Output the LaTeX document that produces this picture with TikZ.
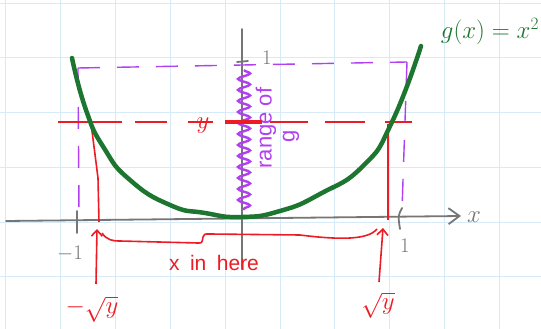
\documentclass[tikz,border=0pt]{standalone}
\usepackage{fontspec}
\setmainfont{Liberation Sans}
\usetikzlibrary{arrows.meta,decorations.pathmorphing}
\definecolor{gridc}{RGB}{214,234,248}
\definecolor{axc}{RGB}{118,118,118}
\definecolor{grn}{RGB}{28,118,48}
\definecolor{rd}{RGB}{236,28,36}
\definecolor{pur}{RGB}{178,64,240}
\begin{document}
\begin{tikzpicture}[x=1pt,y=-1pt,
  gridline/.style={gridc,line width=1pt},
  axis/.style={axc,line width=1.8pt,line cap=round},
  curve/.style={grn,line width=4.5pt,line cap=round,line join=round},
  pdash/.style={pur,line width=1.4pt,dash pattern=on 22pt off 17pt},
  redline/.style={rd,line width=1.6pt},
  redarrow/.style={rd,line width=1.6pt,-{Straight Barb[length=6pt,width=11pt,line width=1.6pt]}},
  lbl/.style={inner sep=0pt}]
\useasboundingbox (0,0) rectangle (541,329);
\fill[white] (0,0) rectangle (541,329);
% grid
\foreach \gx in {5,60,115,170,225,280,334.5,389.5,444,499}
  \draw[gridline] (\gx,0) -- (\gx,329);
\foreach \gy in {3.3,58,112.7,167.4,222,276.8}
  \draw[gridline] (0,\gy) -- (541,\gy);
% axes
\coordinate (xs) at (6,221);
\coordinate (xe) at (461,216);
\coordinate (ys) at (242,29);
\coordinate (ye) at (242,269);
\draw[axis,-{Straight Barb[length=11pt,width=16pt,line width=1.8pt]}] (xs) -- (xe);
\draw[axis] (ys) -- (ye);
\draw[axis] (77,211) -- (77,233);
\draw[axis] (402,208) .. controls (398,216) .. (400,229);
\draw[axis] (237,62) -- (248,61);
\node[lbl,axc] (xl) at (474,217) {\fontsize{24}{24}\selectfont $x$};
\node[lbl,axc] (m1) at (70,254) {\fontsize{21}{21}\selectfont $-1$};
\node[lbl,axc] (p1) at (405,246) {\fontsize{21}{21}\selectfont $1$};
\node[lbl,axc] (t1) at (267,58) {\fontsize{20}{20}\selectfont $1$};
% purple dashed box
\coordinate (pa) at (79,215);
\coordinate (pb) at (78,68);
\coordinate (pc) at (407,62);
\coordinate (pd) at (402,210);
\draw[pdash] (pb) -- (pc);
\draw[pdash] (pb) -- (pa);
\draw[pdash] (pc) -- (pd);
% wiggle
\coordinate (wa) at (244,70);
\coordinate (wb) at (244,210);
\draw[pur,line width=2.4pt,decorate,decoration={snake,amplitude=6pt,segment length=11pt}] (wa) -- (wb);
\node[lbl,pur,rotate=90] (rng) at (266,128) {\fontsize{22}{22}\selectfont range of};
\node[lbl,pur,rotate=90] (gg) at (291,136) {\fontsize{22}{22}\selectfont g};
% red dashed y-line
\coordinate (ra) at (58,122);
\coordinate (rb) at (412,122);
\draw[redline,dash pattern=on 64pt off 13pt on 32pt off 21pt on 25pt off 12pt on 37pt off 8pt on 38pt off 17pt on 40pt off 20pt on 27pt] (ra) -- (rb);
\draw[rd,line width=4pt] (225,122) -- (262,122);
\node[lbl,rd] (yl) at (203,126) {\fontsize{24}{24}\selectfont $y$};
% red verticals
\coordinate (la) at (91,123);
\coordinate (lb) at (99,222);
\coordinate (rca) at (388,124);
\coordinate (rcb) at (388,220);
\draw[redline,line join=round] (la) -- (98,178) -- (lb);
\draw[redline] (rca) -- (rcb);
% green curve
\draw[curve] plot[smooth,tension=0.9] coordinates {(72,58) (86,110) (104,148) (130,180) (170,205) (205,213) (241,217) (280,211) (320,194) (363,166) (392,122) (421,46)};
\node[lbl,grn] (gx) at (490,32) {\fontsize{23}{23}\selectfont $g(x)=x^2$};
% arrows and labels
\node[lbl,rd] (ml) at (92,309) {\fontsize{23}{23}\selectfont $-\sqrt{y}$};
\node[lbl,rd] (pl) at (378,305) {\fontsize{23}{23}\selectfont $\sqrt{y}$};
\coordinate (lt) at (97,229);
\coordinate (rt) at (383,228);
\draw[redarrow] (96,284) -- (lt);
\draw[redarrow] (379,282) -- (rt);
% brace
\draw[redline,line join=round] (102,233) .. controls (107,240) and (112,241) .. (120,241) -- (198,243)
  .. controls (202,243) .. (203,237) .. controls (204,234) .. (210,234) -- (300,235)
  .. controls (340,240) and (368,240) .. (377,229);
\node[lbl,rd] (xin) at (214,263) {\fontsize{21}{21}\selectfont x\,\,\,in\,\,\,here};
\end{tikzpicture}
\end{document}
